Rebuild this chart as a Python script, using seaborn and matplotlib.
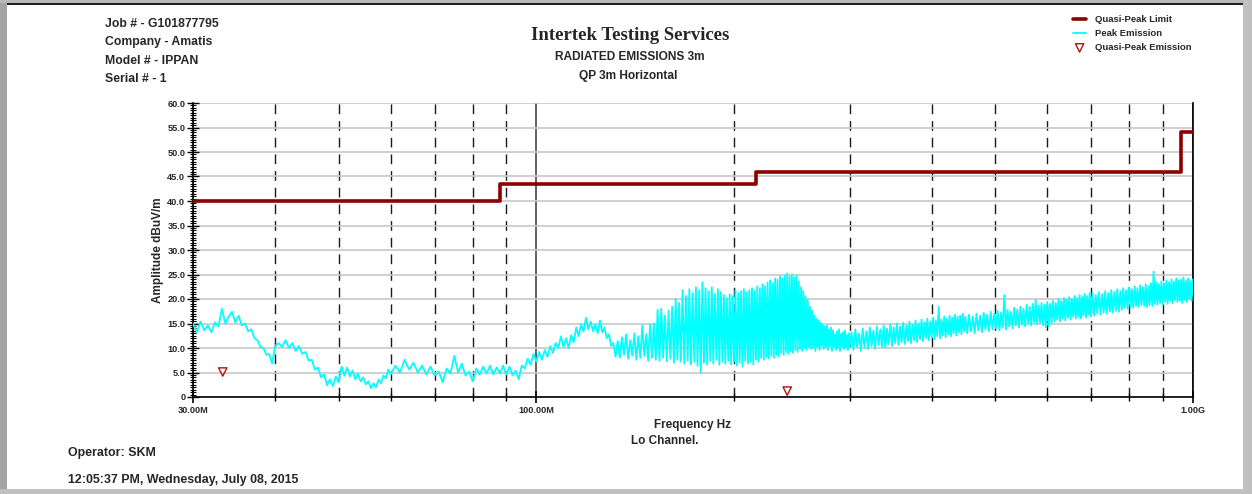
import numpy as np
import pandas as pd
import matplotlib
matplotlib.use("Agg")
import matplotlib.pyplot as plt
import seaborn as sns
from matplotlib.patches import Rectangle
from matplotlib.ticker import FixedLocator, FixedFormatter, NullFormatter, MultipleLocator

# ------------------------------------------------------------------ data
limit_freq_mhz = [30, 88, 216, 960, 1000]
limit_dbuv = [40.0, 43.5, 46.0, 54.0, 54.0]

qp_freq_mhz = [33.3, 241.0]
qp_dbuv = [5.1, 1.2]

peak_freq_mhz = [
    30.0, 30.4, 30.8, 31.2, 31.6, 32.0, 32.4, 32.8, 33.2, 33.6, 34.0, 34.4, 34.8,
    35.2, 35.6, 36.0, 36.4, 36.8, 37.2, 37.6, 38.0, 38.4, 38.8, 39.2, 39.6, 40.0,
    40.5, 41.0, 41.5, 42.0, 42.5, 43.0, 43.5, 44.0, 44.5, 45.0, 45.5, 46.0, 46.5,
    47.0, 47.5, 48.0, 48.5, 49.0, 49.5, 50.0, 50.5, 51.0, 51.5, 52.0, 52.5, 53.0,
    53.5, 54.0, 54.5, 55.0, 55.5, 56.0, 56.5, 57.0, 57.5, 58.0, 58.5, 59.0, 59.5, 60.0,
    61, 62, 63, 64, 65, 66, 67, 68, 69, 70, 71, 72, 73, 74, 75, 76, 77, 78, 79, 80,
    81, 82, 83, 84, 85, 86, 87, 88, 89, 90, 91, 92, 93, 94, 95, 96, 97, 98, 99, 100,
    101, 102, 103, 104, 105, 106, 107, 108, 109, 110, 111, 112, 113, 114, 115, 116,
    117, 118, 119, 120, 121, 122, 123, 124, 125, 126, 127, 128, 129, 130, 131, 132,
    133, 134, 135, 136, 137, 138, 139, 140, 141, 142, 143, 144, 145, 146, 147, 148,
    149, 150,
    151, 152, 153, 154, 155, 156, 157, 158, 159, 160, 161, 162, 163, 164, 165, 166,
    167, 168, 169, 170, 171, 172, 173, 174, 175, 176, 177, 178, 179, 180, 181, 182,
    183, 184, 185, 186, 187, 188, 189, 190, 191, 192, 193, 194, 195, 196, 197, 198,
    199, 200, 201, 202, 203, 204, 205, 206, 207, 208, 209, 210, 211, 212, 213, 214,
    215, 216, 217, 218, 219, 220, 221, 222, 223, 224, 225, 226, 227, 228, 229, 230,
    231, 232, 233, 234, 235, 236, 237, 238, 239, 240, 241, 242, 243, 244, 245, 246,
    247, 248, 249, 250, 251, 252, 253, 254, 255, 256, 257, 258, 259, 260, 261, 262,
    263, 264, 265, 266, 267, 268, 269, 270, 271, 272, 273, 274, 275, 276, 277, 278,
    279, 280, 281, 282, 283, 284, 285, 286, 287, 288, 289, 290, 291, 292, 293, 294,
    295, 296, 297, 298, 299, 300,
    302, 304, 306, 308, 310, 312, 314, 316, 318, 320,
    322, 324, 326, 328, 330, 332, 334, 336, 338, 340,
    342, 344, 346, 348, 350, 352, 354, 356, 358, 360,
    362, 364, 366, 368, 370, 372, 374, 376, 378, 380,
    382, 384, 386, 388, 390, 392, 394, 396, 398, 400,
    402, 404, 406, 408, 410, 412, 414, 416, 418, 420,
    422, 424, 426, 428, 430, 432, 434, 436, 438, 440,
    442, 444, 446, 448, 450,
    453, 456, 459, 462, 465, 468, 471, 474, 477, 480,
    483, 486, 489, 492, 495, 498, 501, 504, 507, 510,
    513, 516, 519, 522, 525, 528, 531, 534, 537, 540,
    543, 546, 549, 552, 555, 558, 561, 564, 567, 570,
    573, 576, 579, 582, 585, 588, 591, 594, 597, 600,
    603, 606, 609, 612, 615, 618, 621, 624, 627, 630,
    633, 636, 639, 642, 645, 648, 651, 654, 657, 660,
    663, 666, 669, 672, 675, 678, 681, 684, 687, 690,
    693, 696, 699,
    703, 707, 711, 715, 719, 723, 727, 731, 735, 739,
    743, 747, 751, 755, 759, 763, 767, 771, 775, 779,
    783, 787, 791, 795, 799, 803, 807, 811, 815, 819,
    823, 827, 831, 835, 839, 843, 847, 851, 855, 859,
    863, 867, 871, 875, 879, 883, 887, 891, 895, 899,
    903, 907, 911, 915, 919, 923, 927, 931, 935, 939,
    943, 947, 951, 955, 959, 963, 967, 971, 975, 979,
    983, 987, 991, 995, 999, 1000,
]

peak_dbuv = [
    15.0, 13.2, 15.4, 13.6, 14.6, 13.2, 15.2, 14.4, 18.0, 15.0, 16.4, 17.4, 15.2,
    16.6, 14.6, 15.0, 13.4, 13.8, 12.0, 11.6, 10.2, 10.0, 8.6, 8.8, 6.8, 10.4,
    11.0, 10.2, 11.6, 10.0, 11.0, 9.4, 10.4, 8.8, 9.2, 7.4, 7.6, 5.6, 6.0,
    4.0, 4.6, 2.4, 3.6, 2.2, 4.2, 3.0, 6.2, 4.4, 6.0, 4.2, 5.4, 3.6,
    4.8, 3.2, 4.0, 2.6, 3.2, 1.8, 2.8, 2.0, 3.6, 2.8, 4.4, 3.8, 5.6, 4.6,
    6.4, 5.0, 7.6, 5.6, 7.0, 5.0, 6.4, 4.6, 6.2, 4.4, 5.2, 3.0, 5.8, 4.8, 8.4, 5.0, 6.8, 4.4, 5.2, 3.2,
    5.8, 4.6, 6.2, 4.8, 6.4, 4.6, 6.0, 4.8, 6.4, 4.6, 6.2, 4.4, 5.4, 3.6, 6.4, 5.8, 7.8, 6.6, 8.8, 7.2,
    9.2, 7.6, 9.6, 8.2, 10.4, 9.0, 11.0, 10.0, 12.4, 10.2, 12.0, 10.0, 12.6, 11.2, 14.2, 12.4,
    14.8, 13.4, 16.2, 13.8, 15.4, 13.4, 14.8, 13.0, 15.6, 13.2, 14.2, 12.0, 12.8, 10.4, 11.0, 8.2,
    11.4, 8.0, 12.2, 8.6, 12.8, 7.8, 11.6, 8.4, 13.0, 7.6, 12.4, 8.0, 14.6, 8.4, 12.8, 7.4,
    14.8, 8.0,
    15.0, 7.6, 17.8, 7.4, 18.0, 8.0, 16.6, 7.2, 17.6, 7.8, 18.4, 7.0, 20.0, 7.6, 19.2, 7.2,
    21.8, 6.8, 20.6, 7.4, 22.0, 6.6, 21.2, 7.2, 22.4, 6.4, 21.8, 5.0, 23.4, 7.0, 22.2, 6.6,
    21.6, 7.4, 22.4, 6.8, 21.0, 7.6, 22.0, 6.6, 21.4, 7.2, 20.8, 6.8, 20.2, 7.4, 21.0, 6.6,
    20.6, 7.2, 21.8, 6.4, 21.2, 7.0, 21.6, 6.2, 22.0, 7.4, 21.4, 6.8, 21.8, 7.2, 22.2, 6.6,
    21.6, 7.6, 22.6, 7.2, 22.2, 8.0, 23.0, 7.6, 22.6, 8.2, 23.4, 7.8, 23.8, 8.4, 23.2, 8.0,
    24.2, 8.6, 24.0, 8.2, 24.6, 9.0, 24.2, 8.6, 24.8, 9.2, 25.2, 8.8, 24.6, 9.4, 25.0, 9.0,
    24.4, 9.6, 24.8, 9.2, 23.6, 9.8, 22.4, 9.4, 21.6, 10.0, 20.6, 9.6, 19.8, 10.2, 18.4, 9.8,
    17.6, 10.0, 16.6, 9.4, 16.0, 10.2, 15.6, 9.6, 15.2, 10.4, 14.8, 9.8, 14.4, 10.2, 14.6, 9.6,
    13.8, 10.4, 14.2, 9.4, 13.6, 10.2, 12.8, 9.6, 13.4, 10.0, 13.8, 9.4, 12.8, 10.2, 13.2, 9.8,
    13.6, 10.0, 12.6, 9.6, 13.0, 10.2,
    13.2, 9.6, 13.8, 10.2, 12.9, 9.4, 14.0, 10.0, 13.4, 9.8,
    14.2, 10.4, 13.6, 9.8, 14.4, 10.6, 13.8, 10.2, 14.6, 10.0,
    14.0, 10.8, 14.8, 10.4, 14.2, 11.0, 15.0, 10.6, 14.4, 11.2,
    15.2, 10.8, 14.6, 11.4, 15.4, 11.0, 14.8, 11.6, 15.6, 11.2,
    15.0, 11.8, 15.8, 11.4, 15.2, 12.0, 16.0, 11.6, 15.4, 12.2,
    16.2, 11.8, 15.6, 12.4, 18.4, 12.0, 15.8, 12.6, 16.4, 12.2,
    16.0, 12.8, 16.6, 12.4, 16.2, 13.0, 16.8, 12.6, 16.4, 13.2,
    16.6, 12.8, 17.0, 13.4, 16.4,
    13.0, 16.8, 13.4, 16.4, 13.0, 17.0, 13.6, 16.6, 13.2, 17.2,
    13.8, 16.8, 13.4, 17.4, 13.8, 17.0, 14.0, 17.6, 13.6, 17.2,
    14.2, 20.8, 13.8, 17.8, 14.4, 17.4, 14.0, 18.2, 14.6, 17.8,
    14.2, 18.4, 14.8, 18.0, 14.4, 18.8, 15.0, 18.4, 14.6, 19.0,
    15.2, 19.8, 14.8, 18.6, 15.2, 19.2, 14.6, 18.8, 14.2, 19.4,
    14.4, 19.0, 15.0, 19.6, 15.4, 19.2, 15.8, 20.0, 15.4, 19.6,
    16.0, 20.2, 15.6, 19.8, 16.2, 20.4, 15.8, 20.0, 16.4, 20.6,
    16.0, 20.2, 16.4, 20.8, 16.0, 20.4, 16.6, 21.0, 16.2, 20.6,
    16.8, 21.2, 16.4,
    21.2, 16.6, 20.8, 17.0, 21.4, 16.8, 21.0, 17.2, 21.6, 17.0,
    21.2, 17.4, 21.8, 17.2, 21.4, 17.6, 22.0, 17.4, 21.6, 17.8,
    22.2, 18.2, 21.8, 18.0, 22.4, 18.4, 22.0, 18.2, 22.6, 18.6,
    22.2, 18.4, 22.8, 18.8, 22.4, 18.6, 23.0, 18.4, 22.6, 18.8,
    23.2, 18.6, 25.6, 19.0, 23.4, 18.8, 23.0, 19.2, 23.6, 18.8,
    23.2, 19.4, 23.8, 19.0, 23.4, 19.6, 24.0, 19.2, 23.6, 19.8,
    24.2, 19.4, 23.8, 19.6, 24.0, 19.2, 24.4, 19.8, 23.8, 19.4,
    24.2, 20.0, 23.6, 19.6, 24.0, 21.0,
]
assert len(peak_freq_mhz) == len(peak_dbuv)

y_ticks = [0, 5, 10, 15, 20, 25, 30, 35, 40, 45, 50, 55, 60]
y_tick_labels = ["0", "5.0", "10.0", "15.0", "20.0", "25.0", "30.0", "35.0",
                 "40.0", "45.0", "50.0", "55.0", "60.0"]
x_major_ticks = [30, 100, 1000]
x_major_labels = ["30.00M", "100.00M", "1.00G"]
x_minor_ticks = [40, 50, 60, 70, 80, 90, 200, 300, 400, 500, 600, 700, 800, 900]

header_lines = ["Job # - G101877795", "Company - Amatis", "Model # - IPPAN", "Serial # - 1"]

# ------------------------------------------------------------------ figure
sns.set_theme(style="white")
plt.rcParams["font.family"] = ["Liberation Sans", "DejaVu Sans"]
plt.rcParams["font.weight"] = "bold"

W, H = 1252, 494
fig = plt.figure(figsize=(W / 100, H / 100), dpi=100)
fig.patch.set_facecolor("white")


def fx(px):
    return px / W


def fy(py):
    return 1 - py / H


ax = fig.add_axes([fx(193), fy(397), 1000 / W, 294 / H])
ax.set_facecolor("white")
ax.set_xscale("log")

peak_df = pd.DataFrame({"freq": peak_freq_mhz, "dbuv": peak_dbuv})
sns.lineplot(data=peak_df, x="freq", y="dbuv", ax=ax, color="#00FFFF", lw=1.3,
             estimator=None, sort=False, label="Peak Emission", zorder=3)

limit_df = pd.DataFrame({"freq": limit_freq_mhz, "dbuv": limit_dbuv})
sns.lineplot(data=limit_df, x="freq", y="dbuv", ax=ax, color="#8B0000", lw=2.6,
             drawstyle="steps-post", estimator=None, sort=False,
             label="Quasi-Peak Limit", zorder=4)

qp_df = pd.DataFrame({"freq": qp_freq_mhz, "dbuv": qp_dbuv})
sns.scatterplot(data=qp_df, x="freq", y="dbuv", ax=ax, marker="v", s=36,
                facecolor="none", edgecolor="#B01010", linewidth=1.0,
                label="Quasi-Peak Emission", zorder=5)

ax.set_xlim(30, 1000)
ax.set_ylim(0, 60)

ax.xaxis.set_major_locator(FixedLocator(x_major_ticks))
ax.xaxis.set_major_formatter(FixedFormatter(x_major_labels))
ax.xaxis.set_minor_locator(FixedLocator(x_minor_ticks))
ax.xaxis.set_minor_formatter(NullFormatter())
ax.yaxis.set_major_locator(FixedLocator(y_ticks))
ax.yaxis.set_major_formatter(FixedFormatter(y_tick_labels))
ax.yaxis.set_minor_locator(MultipleLocator(0.5))

ax.grid(False)
ax.set_axisbelow(True)
ax.yaxis.grid(True, which="major", color="#c8c8c8", lw=1.2)
ax.xaxis.grid(True, which="minor", color="#1a1a1a", lw=1.0, ls=(0, (7, 5)))
ax.xaxis.grid(True, which="major", color="#555555", lw=1.3)

ax.tick_params(axis="both", which="both", direction="inout", color="black",
               bottom=True, left=True)
ax.tick_params(axis="x", which="major", length=8, width=1.2, pad=2.5, labelsize=6.6)
ax.tick_params(axis="x", which="minor", length=6, width=1.0)
ax.tick_params(axis="y", which="major", length=8, width=1.0, pad=1.5, labelsize=6.6)
ax.tick_params(axis="y", which="minor", length=4.5, width=0.8)
for lab in ax.get_xticklabels() + ax.get_yticklabels():
    lab.set_fontweight("bold")

for side in ["left", "bottom", "right"]:
    ax.spines[side].set_visible(True)
    ax.spines[side].set_color("black")
    ax.spines[side].set_linewidth(1.2)
ax.spines["top"].set_visible(False)

ax.set_xlabel("Frequency Hz", fontsize=8.5, fontweight="bold")
ax.xaxis.set_label_coords(0.5, -0.075)
ax.set_ylabel("Amplitude dBuV/m", fontsize=8.5, fontweight="bold")
ax.yaxis.set_label_coords(-0.029, 0.5)

# legend
handles, labels = ax.get_legend_handles_labels()
if ax.get_legend() is not None:
    ax.get_legend().remove()
order = ["Quasi-Peak Limit", "Peak Emission", "Quasi-Peak Emission"]
hmap = dict(zip(labels, handles))
fig.legend([hmap[k] for k in order], order, loc="upper left",
           bbox_to_anchor=(fx(1073), fy(15)), frameon=False,
           prop={"weight": "bold", "size": 6.8}, handlelength=1.4,
           handletextpad=0.9, labelspacing=0.55, borderpad=0, borderaxespad=0)

# header texts
for i, t in enumerate(header_lines):
    fig.text(fx(105), fy(24 + i * 18.3), t, ha="left", va="center",
             fontsize=8.8, fontweight="bold")

fig.text(fx(630), fy(36), "Intertek Testing Services", ha="center", va="center",
         fontsize=13.5, fontweight="bold", family=["Liberation Serif", "DejaVu Serif"])
fig.text(fx(630), fy(57), "RADIATED EMISSIONS 3m", ha="center", va="center",
         fontsize=8.6, fontweight="bold")
fig.text(fx(628), fy(76), "QP 3m Horizontal", ha="center", va="center",
         fontsize=8.6, fontweight="bold")

fig.text(fx(665), fy(441), "Lo Channel.", ha="center", va="center",
         fontsize=8.5, fontweight="bold")
fig.text(fx(68), fy(453), "Operator: SKM", ha="left", va="center",
         fontsize=8.9, fontweight="bold")
fig.text(fx(68), fy(480), "12:05:37 PM, Wednesday, July 08, 2015", ha="left",
         va="center", fontsize=8.9, fontweight="bold")

# page frame
frame = [
    (0, 0, 7, H, "#a4a4a4"),
    (0, 0, W, 3, "#b8b8b8"),
    (7, 3, W - 16, 2, "#202020"),
    (W - 9, 0, 9, H, "#c0c0c0"),
    (0, H - 5, W, 5, "#c0c0c0"),
]
for x0, y0, w, h, c in frame:
    fig.patches.append(Rectangle((fx(x0), fy(y0 + h)), w / W, h / H,
                                 transform=fig.transFigure, facecolor=c,
                                 edgecolor="none", zorder=0))

fig.savefig("out.png", dpi=100)
